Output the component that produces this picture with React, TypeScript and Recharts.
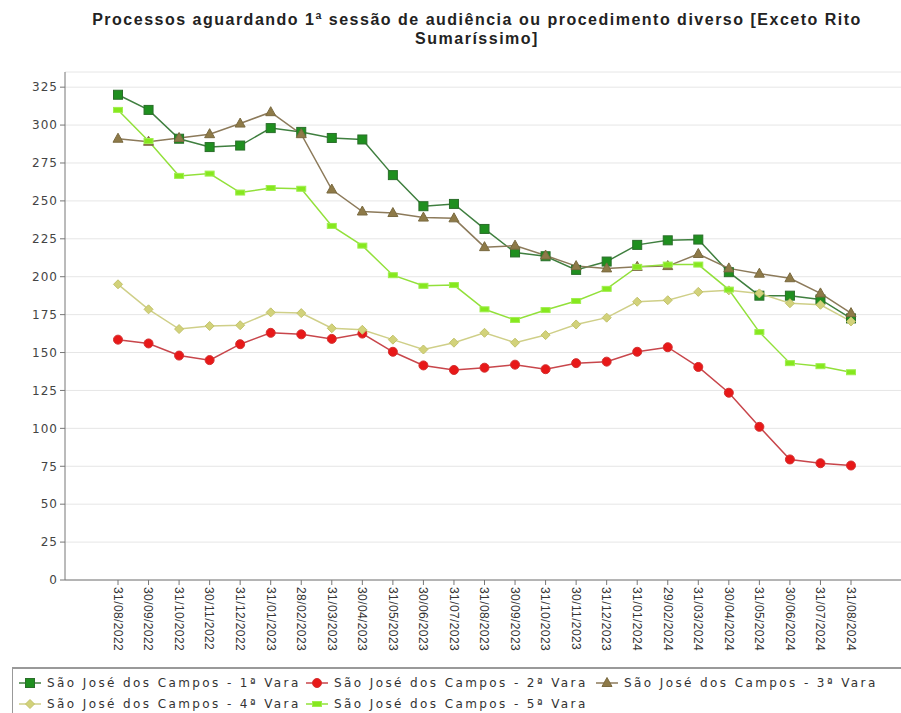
import { LineChart, Line, XAxis, YAxis, CartesianGrid } from 'recharts';

const dates = [
  '31/08/2022', '30/09/2022', '31/10/2022', '30/11/2022', '31/12/2022',
  '31/01/2023', '28/02/2023', '31/03/2023', '30/04/2023', '31/05/2023',
  '30/06/2023', '31/07/2023', '31/08/2023', '30/09/2023', '31/10/2023',
  '30/11/2023', '31/12/2023', '31/01/2024', '29/02/2024', '31/03/2024',
  '30/04/2024', '31/05/2024', '30/06/2024', '31/07/2024', '31/08/2024',
];

const vara1 = [320, 310, 291, 285.5, 286.5, 298, 295.5, 291.5, 290.5, 267, 246.5, 248, 231.5, 216, 213.5, 204.5, 210, 221, 224, 224.5, 203, 187.5, 187.5, 185, 172.5];
const vara2 = [158.5, 156, 148, 145, 155.5, 163, 162, 159, 162.5, 150.5, 141.5, 138.5, 140, 142, 139, 143, 144, 150.5, 153.5, 140.5, 123.5, 101, 79.5, 77, 75.5];
const vara3 = [291, 289, 291.5, 294, 301, 308.5, 294, 257.5, 243, 242, 239, 238.5, 219.5, 220.5, 214, 207, 205.5, 206.5, 207, 215, 205.5, 202, 199, 189, 176];
const vara4 = [195, 178.5, 165.5, 167.5, 168, 176.5, 176, 166, 165, 158.5, 152, 156.5, 163, 156.5, 161.5, 168.5, 173, 183.5, 184.5, 190, 191, 189, 182.5, 181.5, 170.5];
const vara5 = [310, 289.5, 266.5, 268, 255.5, 258.5, 258, 233.5, 220.5, 201, 194, 194.5, 178.5, 171.5, 178, 184, 192, 206.5, 208, 208, 191.5, 163.5, 143, 141, 137];

const yTicks = [0, 25, 50, 75, 100, 125, 150, 175, 200, 225, 250, 275, 300, 325];

const names = [
  'São José dos Campos - 1ª Vara',
  'São José dos Campos - 2ª Vara',
  'São José dos Campos - 3ª Vara',
  'São José dos Campos - 4ª Vara',
  'São José dos Campos - 5ª Vara',
];

const data = dates.map((d, i) => ({
  date: d,
  v1: vara1[i],
  v2: vara2[i],
  v3: vara3[i],
  v4: vara4[i],
  v5: vara5[i],
}));

// marker shapes
const square = (fill: string, stroke: string) => (p: any) => (
  <rect key={p.index} x={p.cx - 4.5} y={p.cy - 4.5} width={9} height={9} fill={fill} stroke={stroke} strokeWidth={1} />
);
const circle = (fill: string, stroke: string) => (p: any) => (
  <circle key={p.index} cx={p.cx} cy={p.cy} r={4.5} fill={fill} stroke={stroke} strokeWidth={1} />
);
const triangle = (fill: string, stroke: string) => (p: any) => (
  <path key={p.index} d={`M${p.cx},${p.cy - 5.5}L${p.cx + 5},${p.cy + 3.5}L${p.cx - 5},${p.cy + 3.5}Z`} fill={fill} stroke={stroke} strokeWidth={1} />
);
const diamond = (fill: string, stroke: string) => (p: any) => (
  <path key={p.index} d={`M${p.cx},${p.cy - 4.5}L${p.cx + 4.5},${p.cy}L${p.cx},${p.cy + 4.5}L${p.cx - 4.5},${p.cy}Z`} fill={fill} stroke={stroke} strokeWidth={1} />
);
const dash = (fill: string, stroke: string) => (p: any) => (
  <rect key={p.index} x={p.cx - 4.5} y={p.cy - 2.5} width={9} height={5} fill={fill} stroke={stroke} strokeWidth={1} />
);

const series = [
  { key: 'v1', line: '#3f7f3f', dot: square('#1f8f1f', '#2a6e2a') },
  { key: 'v2', line: '#c8464b', dot: circle('#e81818', '#d43030') },
  { key: 'v3', line: '#8c7a5a', dot: triangle('#8e7a48', '#7a6a40') },
  { key: 'v4', line: '#cfcf88', dot: diamond('#d2d27a', '#c2c26a') },
  { key: 'v5', line: '#92e03a', dot: dash('#86e81e', '#a0ee50') },
];

const DateTick = ({ x, y, payload }: any) => (
  <g transform={`translate(${x},${y})`}>
    <text
      transform="rotate(90)"
      x={0}
      y={0}
      dy="0.35em"
      textAnchor="start"
      fill="#333"
      fontSize={12}
      letterSpacing={0.4}
      fontFamily="Liberation Sans, Arial, sans-serif"
    >
      {payload.value}
    </text>
  </g>
);

const legendPos = [
  { left: 6, top: 6 },
  { left: 293, top: 6 },
  { left: 583, top: 6 },
  { left: 6, top: 27 },
  { left: 293, top: 27 },
];

export default function App() {
  return (
    <div style={{ position: 'absolute', left: 0, top: 0, width: 901, height: 713, background: '#fff', overflow: 'hidden' }}>
      <div
        style={{
          position: 'absolute',
          left: 27,
          top: 10,
          width: 900,
          textAlign: 'center',
          fontFamily: 'Liberation Sans, Arial, sans-serif',
          fontWeight: 'bold',
          fontSize: 16,
          letterSpacing: 1.5,
          lineHeight: '19px',
          color: '#222',
        }}
      >
        Processos aguardando 1ª sessão de audiência ou procedimento diverso [Exceto Rito
        <br />
        Sumaríssimo]
      </div>

      <div style={{ position: 'absolute', left: 0, top: 0 }}>
        <LineChart width={901} height={660} data={data} margin={{ top: 72, right: 0, bottom: 0, left: 15 }}>
          <CartesianGrid vertical={false} stroke="#e6e6e6" />
          <XAxis
            dataKey="date"
            interval={0}
            height={80}
            padding={{ left: 53, right: 50 }}
            tick={<DateTick />}
            tickSize={5}
            tickMargin={2}
            stroke="#777"
          />
          <YAxis
            width={50}
            domain={[0, 335]}
            ticks={yTicks}
            interval={0}
            tickSize={5}
            stroke="#777"
            tick={{ fill: '#444', fontSize: 12, letterSpacing: 1, fontFamily: 'DejaVu Sans, Verdana, sans-serif' }}
          />
          {series.map((s, i) => (
            <Line
              key={s.key}
              type="linear"
              dataKey={s.key}
              name={names[i]}
              stroke={s.line}
              strokeWidth={1.5}
              dot={s.dot}
              activeDot={false}
              isAnimationActive={false}
            />
          ))}
        </LineChart>
      </div>

      <div
        style={{
          position: 'absolute',
          left: 12,
          top: 667,
          width: 895,
          height: 60,
          borderTop: '2px solid #999',
          borderLeft: '1px solid #999',
          fontFamily: 'DejaVu Sans, Verdana, sans-serif',
          fontSize: 12,
          letterSpacing: 2.4,
          color: '#333',
        }}
      >
        {series.map((s, i) => (
          <div key={s.key} style={{ position: 'absolute', left: legendPos[i].left, top: legendPos[i].top, whiteSpace: 'nowrap', height: 16 }}>
            <svg width={22} height={14} style={{ position: 'absolute', left: 0, top: 1 }}>
              <line x1={0} y1={7} x2={22} y2={7} stroke={s.line} strokeWidth={1.5} />
              {s.dot({ cx: 11, cy: 7, index: 0 })}
            </svg>
            <span style={{ position: 'absolute', left: 28, top: 0, lineHeight: '16px' }}>{names[i]}</span>
          </div>
        ))}
      </div>
    </div>
  );
}
